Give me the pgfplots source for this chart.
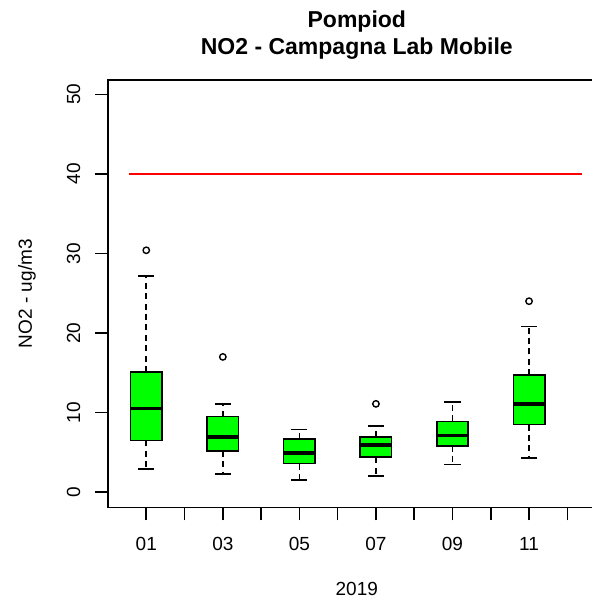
\documentclass[border=0pt]{standalone}
\usepackage{fontspec}
\setmainfont{Liberation Sans}
\usepackage{pgfplots}
\pgfplotsset{compat=1.18}
\usepgfplotslibrary{statistics}

\definecolor{boxgreen}{RGB}{0,255,0}

\pgfplotsset{
	rbox/.style={
			black,
			boxplot/draw direction=y,
			boxplot/box extend=0.82,
			boxplot/whisker extend=0.42,
			boxplot/every box/.style={draw=black, fill=boxgreen, line width=0.8pt},
			boxplot/every median/.style={draw=black, line width=1.8pt},
			boxplot/draw/lower whisker/.code={
					\draw[black, line width=0.8pt, dash pattern=on 3pt off 2.2pt]
					(boxplot box cs:\pgfplotsboxplotvalue{lower quartile},0.5) --
					(boxplot box cs:\pgfplotsboxplotvalue{lower whisker},0.5);
					\draw[black, line width=0.8pt]
					(boxplot whisker cs:\pgfplotsboxplotvalue{lower whisker},0) --
					(boxplot whisker cs:\pgfplotsboxplotvalue{lower whisker},1);
				},
			boxplot/draw/upper whisker/.code={
					\draw[black, line width=0.8pt, dash pattern=on 3pt off 2.2pt]
					(boxplot box cs:\pgfplotsboxplotvalue{upper quartile},0.5) --
					(boxplot box cs:\pgfplotsboxplotvalue{upper whisker},0.5);
					\draw[black, line width=0.8pt]
					(boxplot whisker cs:\pgfplotsboxplotvalue{upper whisker},0) --
					(boxplot whisker cs:\pgfplotsboxplotvalue{upper whisker},1);
				},
			mark=o, mark size=1.6pt,
			mark options={solid, draw=black, line width=0.7pt},
		},
}

\begin{document}
\begin{tikzpicture}
	\begin{axis}[
			scale only axis,
			width=248.8pt, height=213.65pt,
			at={(0,0)}, anchor=south west,
			xmin=0, xmax=13,
			ymin=-1.9, ymax=51.8,
			clip=false,
			axis line style={line width=0.8pt},
			tick align=outside,
			major tick length=6.5pt,
			tick style={black, line width=0.8pt},
			tick pos=left,
			xtick={1,...,12},
			xticklabels={01,,03,,05,,07,,09,,11,},
			ytick={0,10,20,30,40,50},
			/pgf/number format/assume math mode=true,
			ticklabel style={font=\fontsize{9.5}{11}\selectfont, inner sep=0pt},
			xticklabel style={anchor=north},
			yticklabel style={rotate=90, anchor=south},
			xticklabel shift=8.35pt,
			yticklabel shift=7.2pt,
			xlabel={2019},
			ylabel={NO2 - ug/m3},
			every axis x label/.style={at={(axis description cs:0.5,0)}, yshift=-40.85pt, anchor=center, font=\fontsize{9.5}{11}\selectfont},
			every axis y label/.style={at={(axis description cs:0,0.5)}, xshift=-40.5pt, rotate=90, anchor=center, font=\fontsize{9.5}{11}\selectfont},
		]

		\addplot[red, line width=1pt] coordinates {(0.55,40) (12.38,40)};

		\addplot[rbox, boxplot prepared={draw position=1,
					lower whisker=2.9, lower quartile=6.5, median=10.5,
					upper quartile=15.1, upper whisker=27.2}]
		coordinates {(0,30.4)};

		\addplot[rbox, boxplot prepared={draw position=3,
					lower whisker=2.3, lower quartile=5.2, median=6.9,
					upper quartile=9.5, upper whisker=11.1}]
		coordinates {(0,17.0)};

		\addplot[rbox, boxplot prepared={draw position=5,
					lower whisker=1.5, lower quartile=3.6, median=4.9,
					upper quartile=6.7, upper whisker=7.9}]
		coordinates {};

		\addplot[rbox, boxplot prepared={draw position=7,
					lower whisker=2.0, lower quartile=4.4, median=5.9,
					upper quartile=6.9, upper whisker=8.3}]
		coordinates {(0,11.1)};

		\addplot[rbox, boxplot prepared={draw position=9,
					lower whisker=3.5, lower quartile=5.8, median=7.1,
					upper quartile=8.9, upper whisker=11.3}]
		coordinates {};

		\addplot[rbox, boxplot prepared={draw position=11,
					lower whisker=4.3, lower quartile=8.5, median=11.1,
					upper quartile=14.7, upper whisker=20.8}]
		coordinates {(0,24.0)};

		\node[anchor=base, yshift=26pt, font=\bfseries\fontsize{11.5}{13}\selectfont]
		at (rel axis cs:0.5,1) {Pompiod};
		\node[anchor=base, yshift=12.5pt, font=\bfseries\fontsize{11.5}{13}\selectfont]
		at (rel axis cs:0.5,1) {NO2 - Campagna Lab Mobile};
	\end{axis}
	\pgfresetboundingbox
	\useasboundingbox (-54pt,-45.85pt) rectangle (242pt,253.65pt);
\end{tikzpicture}
\end{document}
